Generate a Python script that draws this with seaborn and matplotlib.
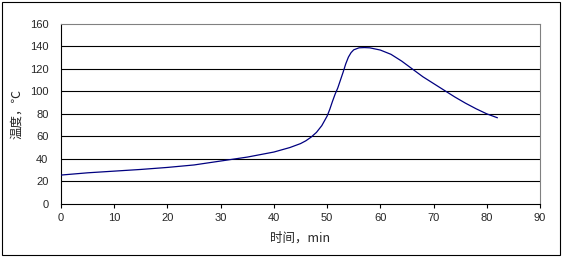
import matplotlib
matplotlib.use('Agg')
import matplotlib.pyplot as plt
import seaborn as sns
import pandas as pd
from matplotlib.patches import Rectangle

# Data
time_min = [0, 5, 10, 15, 20, 25, 30, 35, 40, 43, 45, 46, 47, 48, 49, 50, 50.5,
            51, 51.5, 52, 52.5, 53, 53.5, 54, 54.5, 55, 56, 57, 58, 60, 62,
            64, 66, 68, 70, 72, 74, 76, 78, 80, 82]
temp_c = [25.5, 27.5, 29, 30.5, 32.3, 34.5, 38, 41.5, 46, 50, 53.5, 56, 59.3, 63.5, 69.5,
          78, 84, 91, 97.5, 103, 110, 117, 124.5, 130.5, 134.5, 137, 138.8,
          139, 138.8, 136.8, 133, 127, 120, 113, 107, 101, 95, 89.5, 84.5,
          80, 76.5]
x_ticks = list(range(0, 91, 10))
y_ticks = list(range(0, 161, 20))

df = pd.DataFrame({'time': time_min, 'temp': temp_c})

sns.set_style('white')
plt.rcParams['font.family'] = ['Liberation Sans', 'DejaVu Sans']

fig = plt.figure(figsize=(5.63, 2.57), dpi=100)
ax = fig.add_axes([61 / 563, 1 - 203.7 / 257, 479 / 563, 179.7 / 257])

# outer chart border
fig.patches.append(Rectangle((2 / 563, 2 / 257), 558 / 563, 253 / 257,
                             transform=fig.transFigure, fill=False,
                             edgecolor='black', linewidth=0.8))

for yv in y_ticks[1:-1]:
    ax.axhline(yv, color='black', linewidth=0.8, zorder=1)

sns.lineplot(data=df, x='time', y='temp', color='#000080', linewidth=0.9,
             ax=ax, zorder=3)

ax.set_xlim(0, 90)
ax.set_ylim(0, 160)
ax.set_xticks(x_ticks)
ax.set_yticks(y_ticks)
ax.tick_params(axis='x', length=3, width=0.8, color='black', labelsize=8, pad=4, direction='out')
ax.tick_params(axis='y', length=0, labelsize=8, pad=9)
ax.tick_params(bottom=True)

for s in ['left', 'bottom']:
    ax.spines[s].set_color('black')
    ax.spines[s].set_linewidth(0.8)
for s in ['top', 'right']:
    ax.spines[s].set_color('#808080')
    ax.spines[s].set_linewidth(0.8)

ax.set_xlabel('时间，min', fontsize=9, family=['Noto Sans CJK SC', 'DejaVu Sans'], labelpad=6)
ax.set_ylabel('温度，℃', fontsize=9, family=['Noto Sans CJK SC', 'DejaVu Sans'], labelpad=5)

fig.savefig('out.png', dpi=100)
